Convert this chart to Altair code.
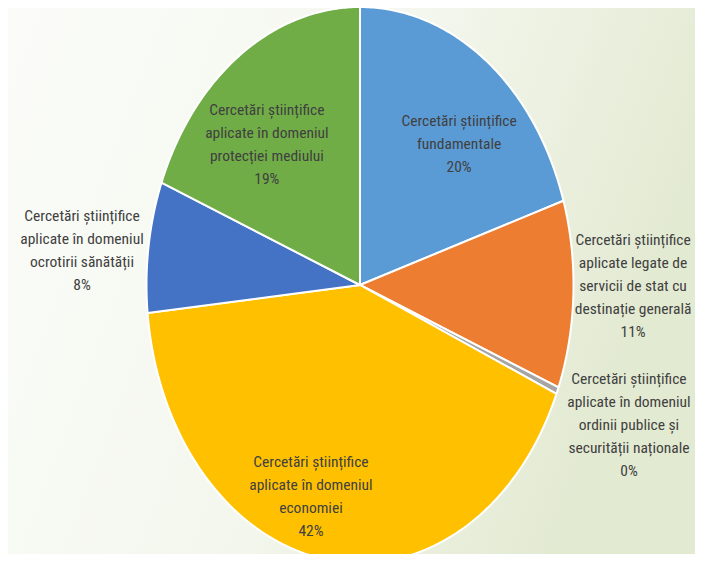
import altair as alt
import pandas as pd

# ---- data ----
categories = [
    "Cercetări științifice\nfundamentale",
    "Cercetări științifice\naplicate legate de\nservicii de stat cu\ndestinație generală",
    "Cercetări științifice\naplicate în domeniul\nordinii publice și\nsecurității naționale",
    "Cercetări științifice\naplicate în domeniul\neconomiei",
    "Cercetări științifice\naplicate în domeniul\nocrotirii sănătății",
    "Cercetări științifice\naplicate în domeniul\nprotecției mediului",
]
values = [20.1, 10.9, 0.4, 42.0, 7.6, 19.0]
colors = ["#5B9BD5", "#ED7D31", "#A5A5A5", "#FFC000", "#4472C4", "#70AD47"]
title_text = "funcționale (anexa 1)"

# ---- label placement (relative to each slice's mid-angle) ----
label_radius = [0.687, 1.279, 1.357, 0.793, 1.308, 0.669]
label_nudge_deg = [6.3, -1.8, -0.5, 8.2, -2.5, -6.5]

# ---- layout ----
W, H = 687, 546
CX, CY = 352, 277
RX, RY = 213.5, 278.0
N = 120
LH = 23
FONT = "Liberation Sans Narrow, Roboto Condensed, DejaVu Sans Condensed, sans-serif"

df = pd.DataFrame({
    "name": categories,
    "value": values,
    "k": list(range(len(values))),
    "lr": label_radius,
    "nudge": label_nudge_deg,
})

xscale = alt.Scale(domain=[-CX / RX, (W - CX) / RX], nice=False, zero=False)
yscale = alt.Scale(domain=[-(H - CY) / RY, CY / RY], nice=False, zero=False)
cscale = alt.Scale(domain=categories, range=colors)

base = (
    alt.Chart(df)
    .transform_joinaggregate(total="sum(value)")
    .transform_window(cum="sum(value)", sort=[alt.SortField("k")], frame=[None, 0])
    .transform_calculate(
        a0="2*PI*(datum.cum-datum.value)/datum.total",
        a1="2*PI*datum.cum/datum.total",
    )
)

wedges = (
    base.transform_calculate(pts=f"sequence(0,{N + 3})")
    .transform_flatten(["pts"], as_=["i"])
    .transform_calculate(
        t=f"clamp((datum.i-1)/{N},0,1)",
        isc=f"datum.i==0 || datum.i=={N + 2}",
    )
    .transform_calculate(ang="datum.a0+(datum.a1-datum.a0)*datum.t")
    .transform_calculate(
        px="datum.isc ? 0 : sin(datum.ang)",
        py="datum.isc ? 0 : cos(datum.ang)",
    )
    .mark_line(filled=True, stroke="white", strokeWidth=2, strokeJoin="round")
    .encode(
        x=alt.X("px:Q", scale=xscale, axis=None),
        y=alt.Y("py:Q", scale=yscale, axis=None),
        order=alt.Order("i:Q"),
        detail="name:N",
        color=alt.Color("name:N", scale=cscale, legend=None),
    )
)

labels = (
    base.transform_calculate(
        am="(datum.a0+datum.a1)/2 + datum.nudge*PI/180",
        txt="datum.name + '\\n' + format(round(datum.value*100/datum.total), 'd') + '%'",
    )
    .transform_calculate(nl="length(split(datum.txt, '\\n'))")
    .transform_calculate(
        lx="datum.lr*sin(datum.am)",
        ly=f"datum.lr*cos(datum.am) + (datum.nl-1)*{LH}/2/{RY}",
    )
    .mark_text(
        lineBreak="\n",
        lineHeight=LH,
        fontSize=15.5,
        font=FONT,
        color="#404040",
        align="center",
        baseline="middle",
    )
    .encode(
        x=alt.X("lx:Q", scale=xscale, axis=None),
        y=alt.Y("ly:Q", scale=yscale, axis=None),
        text="txt:N",
    )
)

bg = (
    alt.Chart(pd.DataFrame({"a": [0]}))
    .mark_rect(
        fill=alt.LinearGradient(
            gradient="linear",
            stops=[
                alt.GradientStop(offset=0, color="#fbfcf9"),
                alt.GradientStop(offset=0.55, color="#f4f7ee"),
                alt.GradientStop(offset=1, color="#e3ead2"),
            ],
            x1=0, y1=0, x2=1, y2=0.3,
        )
    )
    .encode(x=alt.value(0), x2=alt.value(W), y=alt.value(0), y2=alt.value(H))
)

chart = (
    alt.layer(bg, wedges, labels)
    .properties(
        width=W,
        height=H,
        padding=0,
        autosize="none",
        title=alt.TitleParams(
            title_text, fontSize=22, font=FONT, color="#404040",
            fontWeight="normal", anchor="middle", offset=3,
        ),
    )
    .configure_view(stroke=None)
)

chart.save("out.html", embed_options={"renderer": "svg", "actions": False})
